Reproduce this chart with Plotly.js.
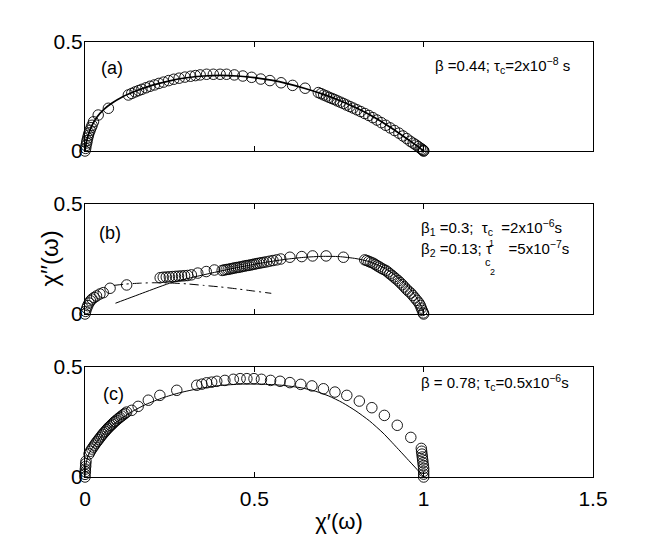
<!DOCTYPE html>
<html>
<head>
<meta charset="utf-8">
<script src="https://cdn.plot.ly/plotly-3.0.1.min.js"></script>
<style>html,body{margin:0;padding:0;background:#fff;}#chart{width:654px;height:545px;}</style>
</head>
<body>
<div id="chart"></div>
<script>
// ---------- Panel (a) ----------
const aX = [0, 0.002, 0.003, 0.005, 0.006, 0.008, 0.010, 0.012, 0.015, 0.018, 0.021, 0.025, 0.039, 0.069,
  0.128, 0.138, 0.148, 0.158, 0.168, 0.180, 0.192, 0.205, 0.218, 0.232, 0.247, 0.262, 0.278, 0.295, 0.312, 0.326,
  0.340, 0.359, 0.379, 0.399, 0.418, 0.441, 0.466, 0.492, 0.519, 0.546, 0.579, 0.613, 0.650,
  0.689, 0.697, 0.705, 0.713, 0.721, 0.729, 0.737, 0.745, 0.754, 0.763, 0.772, 0.782, 0.792, 0.803, 0.814, 0.826,
  0.838, 0.850, 0.862, 0.875, 0.888, 0.901, 0.914, 0.927, 0.939, 0.950, 0.960, 0.969, 0.977, 0.984, 0.990, 0.995,
  0.998, 1.000, 1.000];
const aY = [0, 0.012, 0.025, 0.037, 0.048, 0.060, 0.072, 0.083, 0.095, 0.107, 0.118, 0.134, 0.165, 0.196,
  0.257, 0.264, 0.271, 0.277, 0.283, 0.290, 0.297, 0.303, 0.310, 0.316, 0.323, 0.329, 0.334, 0.339, 0.343, 0.346,
  0.349, 0.352, 0.352, 0.352, 0.352, 0.349, 0.344, 0.338, 0.330, 0.323, 0.313, 0.301, 0.288,
  0.268, 0.263, 0.257, 0.252, 0.246, 0.241, 0.236, 0.230, 0.224, 0.218, 0.211, 0.204, 0.197, 0.189, 0.181, 0.172,
  0.163, 0.153, 0.142, 0.130, 0.118, 0.106, 0.094, 0.082, 0.069, 0.057, 0.045, 0.036, 0.028, 0.020, 0.013, 0.008,
  0.004, 0.001, 0.000];
const aFitX = [0, 0.004, 0.01, 0.02, 0.035, 0.055, 0.08, 0.11, 0.15, 0.2, 0.25, 0.3, 0.35, 0.4, 0.45, 0.5, 0.55, 0.6, 0.65, 0.7, 0.75, 0.8, 0.85, 0.9, 0.94, 0.97, 0.99, 1.0];
const aFitY = [0, 0.04, 0.075, 0.115, 0.155, 0.19, 0.22, 0.248, 0.275, 0.302, 0.322, 0.336, 0.344, 0.347, 0.344, 0.337, 0.325, 0.308, 0.287, 0.262, 0.233, 0.198, 0.158, 0.11, 0.068, 0.035, 0.012, 0];

// ---------- Panel (b) ----------
const bX = [0, 0.002, 0.005, 0.008, 0.012, 0.016, 0.021, 0.027, 0.034, 0.044, 0.054, 0.074, 0.123,
  0.222, 0.231, 0.240, 0.249, 0.258, 0.267, 0.276, 0.285, 0.294, 0.303, 0.314, 0.333, 0.358, 0.382,
  0.405, 0.411, 0.417, 0.423, 0.429, 0.435, 0.441, 0.447, 0.453, 0.459, 0.465, 0.471, 0.477, 0.483, 0.489, 0.495,
  0.501, 0.507, 0.514, 0.521, 0.528, 0.536, 0.545, 0.555, 0.566, 0.578,
  0.605, 0.640, 0.672, 0.712, 0.763,
  0.826, 0.832, 0.838, 0.844, 0.851, 0.857, 0.863, 0.869, 0.875, 0.881, 0.888, 0.894, 0.900, 0.906, 0.912, 0.918,
  0.925, 0.931, 0.937, 0.943, 0.949, 0.955, 0.962, 0.968, 0.974, 0.980, 0.986, 0.990, 0.993, 0.996, 0.999, 1.0];
const bY = [0, 0.012, 0.026, 0.038, 0.050, 0.060, 0.068, 0.075, 0.082, 0.091, 0.097, 0.117, 0.132,
  0.165, 0.167, 0.168, 0.169, 0.170, 0.171, 0.172, 0.173, 0.174, 0.175, 0.178, 0.186, 0.193, 0.200,
  0.198, 0.200, 0.202, 0.203, 0.205, 0.207, 0.209, 0.211, 0.212, 0.214, 0.216, 0.218, 0.220, 0.221, 0.223, 0.225,
  0.227, 0.229, 0.231, 0.233, 0.235, 0.237, 0.240, 0.243, 0.246, 0.250,
  0.258, 0.261, 0.264, 0.264, 0.258,
  0.246, 0.243, 0.239, 0.235, 0.231, 0.225, 0.219, 0.214, 0.208, 0.203, 0.198, 0.191, 0.183, 0.176, 0.168, 0.160,
  0.151, 0.142, 0.133, 0.123, 0.113, 0.104, 0.095, 0.084, 0.073, 0.062, 0.050, 0.039, 0.027, 0.016, 0.005, 0];
const bFitX = [0.09, 0.13, 0.17, 0.21, 0.25, 0.30, 0.35, 0.40, 0.45, 0.50, 0.55, 0.60, 0.65, 0.70, 0.75, 0.80, 0.84, 0.88, 0.91, 0.94, 0.96, 0.98, 0.99, 1.0];
const bFitY = [0.049, 0.072, 0.095, 0.118, 0.14, 0.16, 0.178, 0.195, 0.211, 0.226, 0.239, 0.25, 0.258, 0.262, 0.261, 0.252, 0.238, 0.212, 0.183, 0.145, 0.113, 0.072, 0.045, 0];
const bDashX = [0.085, 0.12, 0.16, 0.20, 0.25, 0.30, 0.35, 0.40, 0.45, 0.50, 0.55];
const bDashY = [0.130, 0.136, 0.140, 0.142, 0.141, 0.137, 0.130, 0.123, 0.114, 0.104, 0.094];

// ---------- Panel (c) ----------
const cX = [0, 0, 0.001, 0.001, 0.002, 0.002, 0.003,
  0.012, 0.016, 0.020, 0.024, 0.028, 0.032, 0.036, 0.040, 0.044, 0.048, 0.052, 0.056, 0.060, 0.064, 0.068, 0.072,
  0.076, 0.080, 0.084, 0.088, 0.093, 0.098, 0.103, 0.108, 0.113, 0.118, 0.123,
  0.138, 0.157, 0.187, 0.221, 0.271, 0.330, 0.345, 0.359, 0.374, 0.389, 0.413, 0.438, 0.458, 0.478, 0.499, 0.521,
  0.548, 0.576, 0.605, 0.637, 0.670, 0.704, 0.738, 0.773, 0.810, 0.847, 0.884, 0.922, 0.962,
  0.993, 0.994, 0.995, 0.996, 0.997, 0.998, 0.999, 1, 1, 1, 1];
const cY = [0, 0.012, 0.024, 0.036, 0.048, 0.060, 0.072,
  0.105, 0.117, 0.127, 0.136, 0.145, 0.154, 0.162, 0.170, 0.178, 0.186, 0.194, 0.201, 0.208, 0.215, 0.222, 0.228,
  0.234, 0.240, 0.246, 0.252, 0.258, 0.265, 0.271, 0.277, 0.283, 0.289, 0.295,
  0.303, 0.321, 0.349, 0.371, 0.394, 0.417, 0.422, 0.428, 0.431, 0.435, 0.439, 0.444, 0.447, 0.447, 0.447, 0.444,
  0.439, 0.435, 0.429, 0.421, 0.414, 0.401, 0.386, 0.371, 0.345, 0.315, 0.280, 0.235, 0.180,
  0.130, 0.117, 0.104, 0.091, 0.078, 0.065, 0.052, 0.039, 0.026, 0.013, 0];
const cFitX = [0, 0.003, 0.01, 0.02, 0.04, 0.07, 0.1, 0.14, 0.18, 0.23, 0.28, 0.34, 0.4, 0.46, 0.52, 0.58, 0.64, 0.68, 0.72, 0.76, 0.8, 0.84, 0.88, 0.92, 0.95, 0.98, 1.0];
const cFitY = [0, 0.06, 0.1, 0.128, 0.17, 0.22, 0.258, 0.298, 0.33, 0.36, 0.383, 0.403, 0.416, 0.422, 0.422, 0.417, 0.405, 0.39, 0.368, 0.338, 0.3, 0.255, 0.2, 0.135, 0.085, 0.035, 0];

const xTicks = [0, 0.5, 1, 1.5];
const xTickText = ['0', '0.5', '1', '1.5'];
const yTicks = [0, 0.5];
const yTickText = ['0', '0.5'];

const FONT = 'Liberation Sans, Arial, Helvetica, sans-serif';

function circles(x, y, xa, ya) {
  return {x: x, y: y, xaxis: xa, yaxis: ya, type: 'scatter', mode: 'markers', cliponaxis: false,
    marker: {symbol: 'circle-open', size: 10.5, color: '#000', line: {width: 0.9, color: '#000'}}, showlegend: false, hoverinfo: 'skip'};
}
function line(x, y, xa, ya, w, dash) {
  return {x: x, y: y, xaxis: xa, yaxis: ya, type: 'scatter', mode: 'lines', cliponaxis: false,
    line: {color: '#000', width: w, dash: dash || 'solid', shape: 'spline', smoothing: 0.6}, showlegend: false, hoverinfo: 'skip'};
}

const data = [
  line(aFitX, aFitY, 'x', 'y', 1.7),
  circles(aX, aY, 'x', 'y'),
  line(bFitX, bFitY, 'x2', 'y2', 1),
  line(bDashX, bDashY, 'x2', 'y2', 1, '9px,4px,2px,4px'),
  circles(bX, bY, 'x2', 'y2'),
  line(cFitX, cFitY, 'x3', 'y3', 1),
  circles(cX, cY, 'x3', 'y3')
];

function xaxis(anchor, labels) {
  return {domain: [0, 1], range: [0, 1.5], anchor: anchor, tickmode: 'array', tickvals: xTicks, ticktext: xTickText,
    ticks: 'inside', ticklen: 5, tickcolor: '#000', showline: true, mirror: 'ticks', linecolor: '#000', linewidth: 1,
    showgrid: false, zeroline: false, showticklabels: labels, ticklabelstandoff: 3,
    tickfont: {family: FONT, size: 21, color: '#000'}};
}
function yaxis(anchor, dom) {
  return {domain: dom, range: [0, 0.5], anchor: anchor, tickmode: 'array', tickvals: yTicks, ticktext: yTickText,
    ticks: 'inside', ticklen: 5, tickcolor: '#000', showline: true, mirror: 'ticks', linecolor: '#000', linewidth: 1,
    showgrid: false, zeroline: false, tickfont: {family: FONT, size: 21, color: '#000'}, ticklabelstandoff: -3};
}

const SUBF = {family: FONT, size: 15};
const layout = {
  width: 654, height: 545,
  margin: {l: 85, r: 61, t: 42, b: 68},
  paper_bgcolor: '#fff', plot_bgcolor: '#fff',
  font: {family: FONT, color: '#000'},
  showlegend: false,
  xaxis: xaxis('y', false),
  xaxis2: xaxis('y2', false),
  xaxis3: Object.assign(xaxis('y3', true), {title: {text: 'χ′(ω)', font: {family: FONT, size: 22, color: '#000'}, standoff: 4}}),
  yaxis: yaxis('x', [0.7494, 1]),
  yaxis2: yaxis('x2', [0.3747, 0.6276]),
  yaxis3: yaxis('x3', [0, 0.2529]),
  annotations: [
    {xref: 'paper', yref: 'paper', x: (33 - 85) / 508, y: (477 - 259) / 435, textangle: -90, text: 'χ′′(ω)', showarrow: false, font: {family: FONT, size: 24}},
    {xref: 'x', yref: 'y', x: 0.079, y: 0.379, text: '(a)', showarrow: false, font: {family: FONT, size: 18}},
    {xref: 'x2', yref: 'y2', x: 0.074, y: 0.367, text: '(b)', showarrow: false, font: {family: FONT, size: 18}},
    {xref: 'x3', yref: 'y3', x: 0.084, y: 0.379, text: '(c)', showarrow: false, font: {family: FONT, size: 18}},
    {xref: 'x', yref: 'y', x: 1.028, y: 0.392, xanchor: 'left', text: 'β =0.44; τ<sub>c</sub>=2x10<sup>−8</sup> s', showarrow: false, font: SUBF},
    {xref: 'x2', yref: 'y2', x: 0.985, y: 0.391, xanchor: 'left', text: 'β<sub>1</sub> =0.3;  τ<sub>c</sub>  =2x10<sup>−6</sup>s', showarrow: false, font: SUBF},
    {xref: 'x2', yref: 'y2', x: 0.985, y: 0.298, xanchor: 'left', text: 'β<sub>2</sub> =0.13; τ    =5x10<sup>−7</sup>s', showarrow: false, font: SUBF},
    {xref: 'paper', yref: 'paper', x: (496 - 85) / 508, y: (477 - 243) / 435, text: '1', showarrow: false, font: {family: FONT, size: 9}},
    {xref: 'paper', yref: 'paper', x: (493 - 85) / 508, y: (477 - 262) / 435, text: 'c', showarrow: false, font: {family: FONT, size: 11}},
    {xref: 'paper', yref: 'paper', x: (497 - 85) / 508, y: (477 - 272) / 435, text: '2', showarrow: false, font: {family: FONT, size: 9}},
    {xref: 'x3', yref: 'y3', x: 0.985, y: 0.430, xanchor: 'left', text: 'β = 0.78; τ<sub>c</sub>=0.5x10<sup>−6</sup>s', showarrow: false, font: SUBF}
  ]
};

Plotly.newPlot('chart', data, layout, {displayModeBar: false, staticPlot: true});
</script>
</body>
</html>
